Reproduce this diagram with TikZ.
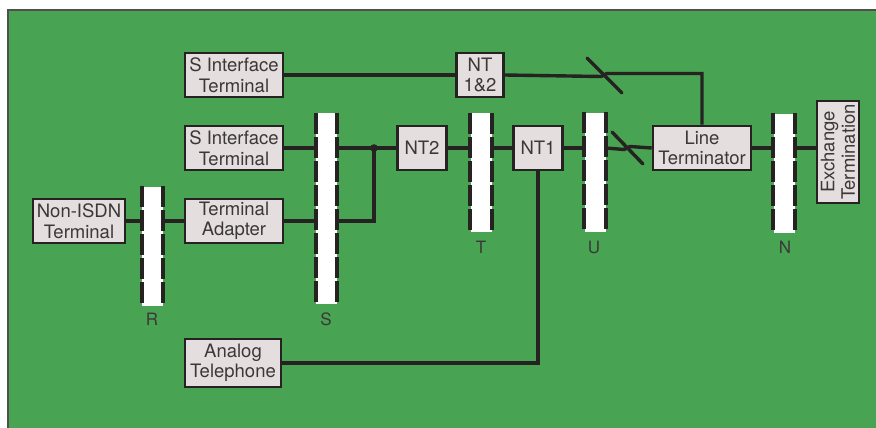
\documentclass[tikz,border=0pt]{standalone}
\usepackage{fontspec}
\setmainfont{TeX Gyre Heros}
\usetikzlibrary{calc}
\definecolor{bggreen}{RGB}{72,163,82}
\definecolor{boxfill}{RGB}{228,222,222}
\definecolor{ink}{RGB}{38,34,34}
\begin{document}
\begin{tikzpicture}[x=1pt,y=-1pt,
  box/.style={draw=ink,line width=2.6pt,fill=boxfill,inner sep=0pt,align=center,
    text=ink!90,font=\fontsize{18.5}{20.5}\selectfont,minimum height=44pt},
  bar/.style={fill=white,draw=none,inner sep=0pt,minimum width=21pt,minimum height=119pt},
  edge/.style={draw=ink,line width=4pt,dash pattern=on 21pt off 3pt},
  wire/.style={draw=ink,line width=3.4pt},
  lab/.style={text=ink!90,font=\fontsize{17}{19}\selectfont}]
  \useasboundingbox (0,0) rectangle (876,428);
  \draw[fill=bggreen,draw=ink!80,line width=2pt] (8,10) rectangle (877,429);
  % terminals and network boxes
  \node[box,minimum width=98pt] (sit1) at (234,75)  {S Interface\\Terminal};
  \node[box,minimum width=98pt] (sit2) at (234,148) {S Interface\\Terminal};
  \node[box,minimum width=92pt] (nisdn) at (79,221) {Non-ISDN\\Terminal};
  \node[box,minimum width=98pt] (ta)   at (234,221) {Terminal\\Adapter};
  \node[box,minimum width=96pt,minimum height=48pt] (tel) at (233,363) {Analog\\Telephone};
  \node[box,minimum width=47pt] (nt12) at (480,75)  {NT\\1\&2};
  \node[box,minimum width=49pt] (nt2)  at (422,148) {NT2};
  \node[box,minimum width=49pt] (nt1)  at (538,148) {NT1};
  \node[box,minimum width=98pt] (lt)   at (702,148) {Line\\Terminator};
  \node[box,rotate=90,minimum width=102pt,minimum height=42pt] (et) at (838,152) {Exchange\\Termination};
  % reference points
  \node[bar] (barR) at (152.5,246) {};
  \node[bar,minimum height=191pt] (barS) at (326.5,208.5) {};
  \node[bar] (barT) at (481,172.5) {};
  \node[bar] (barU) at (595,172) {};
  \node[bar] (barN) at (784,173) {};
  \foreach \b in {barR,barS,barT,barU,barN}{
    \draw[edge] (\b.north west) -- (\b.south west);
    \draw[edge] (\b.north east) -- (\b.south east);}
  \node[lab] (lR) at (152,319) {R};
  \node[lab] (lS) at (326,319) {S};
  \node[lab] (lT) at (481,247) {T};
  \node[lab] (lU) at (594,247) {U};
  \node[lab] (lN) at (785,247) {N};
  % wiring
  \coordinate (jn)   at (374,148);
  \coordinate (brk1) at (604,75);
  \coordinate (brk2) at (627,148);
  \draw[wire] (sit1.east) -- (nt12.west);
  \draw[wire] (nt12.east) -- ($(brk1)+(-3,1.5)$) -- ($(brk1)+(3,-1.5)$) -| (lt.north);
  \draw[wire,line cap=round] ($(brk1)+(-17,-17)$) -- ($(brk1)+(18,18)$);
  \draw[wire] (sit2.east) -- (sit2.east -| barS.west);
  \draw[wire] (sit2.east -| barS.east) -- (nt2.west);
  \fill[ink] (jn) circle (3.8pt);
  \draw[wire] (jn) |- (barS.east |- ta);
  \draw[wire] (nisdn.east) -- (nisdn.east -| barR.west);
  \draw[wire] (ta.west -| barR.east) -- (ta.west);
  \draw[wire] (ta.east) -- (ta.east -| barS.west);
  \draw[wire] (nt2.east) -- (nt2.east -| barT.west);
  \draw[wire] (nt1.west -| barT.east) -- (nt1.west);
  \draw[wire] (nt1.east) -- (nt1.east -| barU.west);
  \draw[wire] (nt1.east -| barU.east) -- ($(brk2)+(-3,1.5)$) -- ($(brk2)+(3,-1.5)$) -- (lt.west);
  \draw[wire,line cap=round] ($(brk2)+(-15,-16)$) -- ($(brk2)+(16,16)$);
  \draw[wire] (nt1.south) |- (tel.east);
  \draw[wire] (lt.east) -- (lt.east -| barN.west);
  \draw[wire] (lt.east -| barN.east) -- (lt.east -| et.north);
\end{tikzpicture}
\end{document}
